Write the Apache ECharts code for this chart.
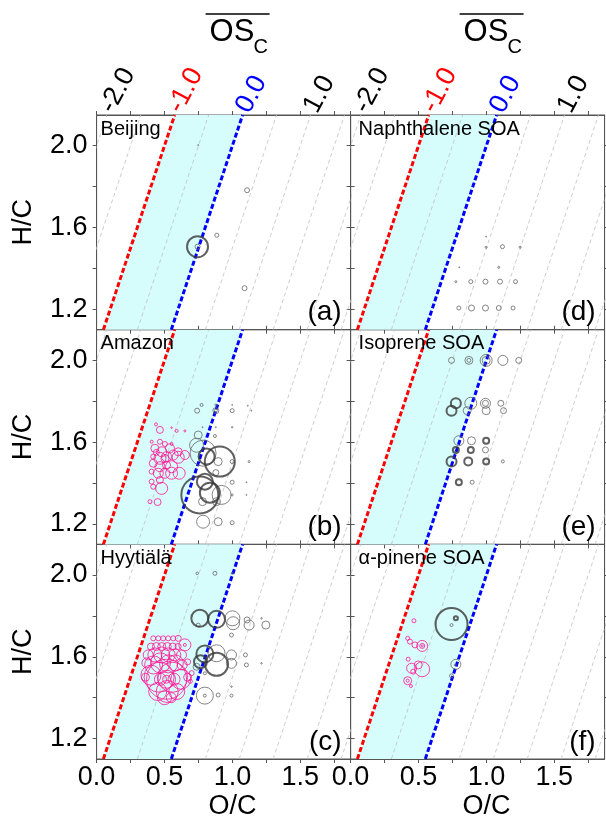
<!DOCTYPE html>
<html><head><meta charset="utf-8">
<script src="https://cdn.jsdelivr.net/npm/echarts@6/dist/echarts.min.js"></script>
<style>html,body{margin:0;padding:0;background:#fff}#c{width:606px;height:822px}</style>
</head><body><div id="c"></div>
<script>
// ---------------- data ----------------
const panelNames = ['Beijing', 'Amazon', 'Hyytiälä', 'Naphthalene SOA', 'Isoprene SOA', 'α-pinene SOA'];
const panelLetters = ['(a)', '(b)', '(c)', '(d)', '(e)', '(f)'];
const xTickLabels = [0, 0.5, 1.0, 1.5];
const xTickValues = [0, 0.25, 0.5, 0.75, 1.0, 1.25, 1.5, 1.75];
const yTickLabels = [1.2, 1.6, 2.0];
const yTickValues = [1.2, 1.4, 1.6, 1.8, 2.0];
const oscLabelValues = [-2, -1, 0, 1];
const oscGrayLines = [-2.5, -2, -1.5, -0.5, 0.5, 1, 1.5, 2, 2.5];
const oscBand = [-1, 0];
const X_MAX = 1.87, Y_MIN = 1.1, Y_MAX = 2.15;

// points: [O/C, H/C, size]
const beijingGrayThin = [[0.743,1.506,5],[0.885,1.562,4],[1.108,1.782,5],[1.089,1.303,5],[0.748,2.003,1]];
const beijingGrayThick = [[0.743,1.506,21]];

const amazonGrayThin = [[0.773,1.782,3],[0.74,1.754,5],[0.878,1.782,2],[0.878,1.754,6],[0.878,1.754,3],[0.998,1.782,1],
  [0.998,1.754,4],[1.113,1.778,1],[1.14,1.754,1],[0.78,1.673,1],[0.878,1.673,1],[0.998,1.673,1.5],[0.748,1.635,8],
  [0.871,1.63,3],[0.784,1.546,26],[0.736,1.585,14],[0.895,1.505,8],[0.878,1.451,6],[0.998,1.505,4],[0.998,1.404,4],
  [1.123,1.505,2],[1.103,1.404,1],[0.92,1.342,19],[0.883,1.309,8],[0.78,1.309,8],[0.784,1.211,13],[0.895,1.211,8],
  [0.998,1.206,4],[0.998,1.342,2],[1.103,1.342,1]];
const amazonGrayThick = [[0.907,1.505,30],[0.81,1.53,16],[0.797,1.407,16],[0.76,1.342,37],[0.834,1.353,20]];
const amazonPink = [[0.437,1.687,3],[0.466,1.66,7],[0.552,1.671,1.5],[0.589,1.655,3],[0.65,1.655,2],[0.405,1.602,3],
  [0.466,1.602,5],[0.503,1.591,5],[0.552,1.591,3],[0.429,1.57,8],[0.479,1.553,10],[0.54,1.57,9],[0.601,1.553,8],
  [0.65,1.537,9],[0.417,1.529,5],[0.466,1.521,12],[0.515,1.529,10],[0.564,1.537,10],[0.601,1.526,12],[0.417,1.497,8],
  [0.466,1.48,10],[0.515,1.488,8],[0.552,1.48,12],[0.405,1.456,5],[0.454,1.448,10],[0.503,1.448,10],[0.552,1.448,12],
  [0.608,1.448,12],[0.405,1.407,5],[0.466,1.415,7],[0.417,1.382,5],[0.479,1.374,12],[0.393,1.309,4],[0.449,1.307,7],
  [0.503,1.52,8],[0.44,1.55,6]];

const hyytialaGrayThin = [[0.741,2.008,2.5],[0.871,2.008,4],[0.998,2.008,2],[1.0,1.788,15],[1.005,1.764,13],[1.108,1.78,6],
  [1.123,1.755,10],[1.246,1.755,8],[1.214,1.788,1.5],[0.993,1.706,4],[0.748,1.755,4],[0.883,1.617,17],[0.993,1.609,10],
  [1.096,1.609,4],[0.993,1.568,10],[1.103,1.56,4],[1.214,1.568,1.5],[0.736,1.551,7],[0.797,1.519,3],[0.797,1.41,17],
  [0.797,1.41,3],[0.895,1.413,4],[0.993,1.41,3],[0.993,1.454,1.5]];
const hyytialaGrayThick = [[0.76,1.788,17],[0.883,1.783,17],[0.797,1.614,17],[0.765,1.576,13],[0.883,1.563,23]];
const hyytialaPink = [[0.417,1.69,5],[0.454,1.69,5],[0.49,1.69,5],[0.527,1.69,5],[0.564,1.69,5],[0.601,1.69,6],
  [0.65,1.658,12],[0.65,1.658,3],[0.40,1.65,7],[0.44,1.65,8],[0.48,1.65,8],[0.52,1.65,8],[0.56,1.65,7],[0.60,1.65,6],
  [0.38,1.609,10],[0.429,1.609,14],[0.479,1.609,16],[0.527,1.609,14],[0.576,1.609,12],[0.625,1.609,10],
  [0.37,1.57,10],[0.42,1.56,18],[0.47,1.57,20],[0.53,1.565,18],[0.58,1.57,16],[0.63,1.56,10],[0.67,1.575,6],
  [0.40,1.51,20],[0.46,1.50,30],[0.515,1.49,40],[0.56,1.50,30],[0.62,1.49,20],[0.515,1.49,18],[0.515,1.49,8],
  [0.47,1.49,12],[0.57,1.49,12],[0.36,1.50,8],[0.67,1.50,8],[0.70,1.52,5],[0.45,1.43,18],[0.52,1.43,22],
  [0.59,1.43,16],[0.50,1.40,14],[0.55,1.40,10],[0.69,1.48,4]];

const naphthaleneGrayThin = [[0.998,1.555,1],[0.998,1.503,2],[1.118,1.506,4],[1.248,1.503,2],[0.80,1.405,1],[1.091,1.405,2],
  [0.775,1.335,2],[0.885,1.335,4],[0.993,1.335,5],[1.10,1.335,5],[1.214,1.335,4],
  [0.797,1.206,4],[0.89,1.206,6],[0.993,1.206,6],[1.091,1.206,5],[1.196,1.206,4]];

const isopreneGrayThin = [[0.743,2.0,6],[0.871,2.0,8],[0.871,2.0,4],[0.998,2.0,12],[0.998,2.0,8],[1.121,2.0,10],[1.238,2.0,6],
  [0.885,1.79,12],[0.993,1.79,10],[0.993,1.79,6],[1.106,1.79,6],[0.858,1.754,8],[0.998,1.754,8],[1.126,1.754,6],
  [0.797,1.607,10],[0.89,1.607,8],[0.993,1.562,6],[1.121,1.506,3],[0.895,1.404,4]];
const isopreneGrayThick = [[0.775,1.79,10],[0.743,1.754,10],[0.998,1.607,6],[0.775,1.562,6],[0.885,1.562,6],
  [0.743,1.506,10],[0.866,1.506,8],[0.998,1.506,6],[0.797,1.404,6]];

const pineneGrayThin = [[0.775,1.563,10],[0.77,1.56,2],[0.743,1.507,4],[0.743,1.755,3]];
const pineneGrayThick = [[0.743,1.76,32],[0.775,1.788,4]];
const pinenePink = [[0.466,1.776,4],[0.42,1.69,4],[0.437,1.674,5],[0.474,1.658,6],[0.527,1.653,11],[0.527,1.653,5],
  [0.527,1.653,2],[0.424,1.588,4],[0.449,1.544,10],[0.498,1.56,8],[0.527,1.539,15],[0.461,1.527,5],[0.42,1.483,8],
  [0.42,1.483,3],[0.444,1.457,3]];

const panelData = [
  {pink: [], thin: beijingGrayThin, thick: beijingGrayThick},
  {pink: amazonPink, thin: amazonGrayThin, thick: amazonGrayThick},
  {pink: hyytialaPink, thin: hyytialaGrayThin, thick: hyytialaGrayThick},
  {pink: [], thin: naphthaleneGrayThin, thick: []},
  {pink: [], thin: isopreneGrayThin, thick: isopreneGrayThick},
  {pink: pinenePink, thin: pineneGrayThin, thick: pineneGrayThick}
];

// ---------------- layout / style ----------------
const FONT = "'Liberation Sans', Arial, sans-serif";
const colLeft = [96.6, 350.6], rowTop = [115, 329.7, 544.3], W = 254, H = 214.7;
const AX = '#555';
const grids = [], xAxes = [], yAxes = [], series = [], graphics = [];

function oscLine(v) { return [[(Y_MIN + v) / 2, Y_MIN], [(Y_MAX + v) / 2, Y_MAX]]; }

panelData.forEach((p, g) => {
  const col = Math.floor(g / 3), row = g % 3;
  const left = colLeft[col], top = rowTop[row];
  grids.push({left: left, top: top, width: W, height: H, show: true, borderColor: AX, borderWidth: 1, backgroundColor: 'transparent', containLabel: false});
  const xi = xAxes.length;
  xAxes.push({type: 'value', gridIndex: g, position: 'bottom', min: 0, max: X_MAX,
    axisLine: {show: true, onZero: false, lineStyle: {color: AX}},
    axisTick: {show: true, customValues: xTickValues, length: 4, lineStyle: {color: AX}},
    axisLabel: {show: row === 2, customValues: xTickLabels, formatter: v => v.toFixed(1), fontSize: 27, color: '#000', fontFamily: FONT, margin: 5},
    splitLine: {show: false},
    name: row === 2 ? 'O/C' : '', nameLocation: 'middle', nameGap: 34,
    nameTextStyle: {fontSize: 27, color: '#000', fontFamily: FONT, padding: [0, 0, 0, 18]}});
  xAxes.push({type: 'value', gridIndex: g, position: 'top', min: 0, max: X_MAX,
    axisLine: {show: true, onZero: false, lineStyle: {color: AX}},
    axisTick: {show: true, customValues: xTickValues, length: 4, lineStyle: {color: AX}},
    axisLabel: {show: false}, splitLine: {show: false}});
  if (row === 0) {
    xAxes.push({type: 'value', gridIndex: g, position: 'top', min: 2 * 0 - Y_MAX, max: 2 * X_MAX - Y_MAX,
      axisLine: {show: false}, axisTick: {show: false}, splitLine: {show: false},
      axisLabel: {show: true, customValues: oscLabelValues, rotate: -62, margin: 4,
        formatter: v => (v === -1 ? '{r|' : v === 0 ? '{b|' : '{k|') + v.toFixed(1) + '}',
        rich: {r: {color: '#ff0000', fontSize: 27, fontFamily: FONT}, b: {color: '#0000ff', fontSize: 27, fontFamily: FONT}, k: {color: '#000', fontSize: 27, fontFamily: FONT}}}});
  }
  const yi = yAxes.length;
  yAxes.push({type: 'value', gridIndex: g, position: 'left', min: Y_MIN, max: Y_MAX,
    axisLine: {show: true, onZero: false, lineStyle: {color: AX}},
    axisTick: {show: true, customValues: yTickValues, length: 4, lineStyle: {color: AX}},
    axisLabel: {show: col === 0, customValues: yTickLabels, formatter: v => v.toFixed(1), fontSize: 27, color: '#000', fontFamily: FONT, margin: 9},
    splitLine: {show: false},
    name: col === 0 ? 'H/C' : '', nameLocation: 'middle', nameGap: 60, nameRotate: 90,
    nameTextStyle: {fontSize: 27, color: '#000', fontFamily: FONT}});
  yAxes.push({type: 'value', gridIndex: g, position: 'right', min: Y_MIN, max: Y_MAX,
    axisLine: {show: true, onZero: false, lineStyle: {color: AX}},
    axisTick: {show: true, customValues: yTickValues, length: 4, lineStyle: {color: AX}},
    axisLabel: {show: false}, splitLine: {show: false}});

  // shaded band between OSc -1 and 0
  const bandPts = [[(Y_MIN + oscBand[0]) / 2, Y_MIN], [(Y_MIN + oscBand[1]) / 2, Y_MIN], [(Y_MAX + oscBand[1]) / 2, Y_MAX], [(Y_MAX + oscBand[0]) / 2, Y_MAX]];
  series.push({type: 'custom', xAxisIndex: xi, yAxisIndex: yi, silent: true, z: 1, data: [[0.5, 1.5]],
    renderItem: (params, api) => ({type: 'polygon', shape: {points: bandPts.map(pt => api.coord(pt))}, style: {fill: '#d6fcfc'}})});
  oscGrayLines.forEach(v => series.push({type: 'line', xAxisIndex: xi, yAxisIndex: yi, data: oscLine(v), symbol: 'none', silent: true, z: 2, clip: true,
    lineStyle: {color: '#c0c0c0', width: 0.8, type: [4, 3]}}));
  series.push({type: 'line', xAxisIndex: xi, yAxisIndex: yi, data: oscLine(-1), symbol: 'none', silent: true, z: 3, clip: true,
    lineStyle: {color: '#ff0000', width: 3, type: [5, 2.5]}});
  series.push({type: 'line', xAxisIndex: xi, yAxisIndex: yi, data: oscLine(0), symbol: 'none', silent: true, z: 3, clip: true,
    lineStyle: {color: '#0000ff', width: 3, type: [5, 2.5]}});
  const sc = (data, color, bw, z) => ({type: 'scatter', xAxisIndex: xi, yAxisIndex: yi, data: data, symbol: 'circle',
    symbolSize: v => v[2], silent: true, z: z, clip: true,
    itemStyle: {color: 'rgba(0,0,0,0)', borderColor: color, borderWidth: bw}});
  if (p.pink.length) series.push(sc(p.pink, '#ff1493', 1, 5));
  if (p.thin.length) series.push(sc(p.thin, '#666666', 1, 5));
  if (p.thick.length) series.push(sc(p.thick, '#383838', 2, 6));

  graphics.push({type: 'text', left: left + (col === 0 ? 4 : 8), top: top + 4, z: 10,
    style: {text: panelNames[g], fontSize: 20, fontFamily: FONT, fill: '#000'}});
  graphics.push({type: 'text', x: left + W - 9, y: top + H - 3, z: 10,
    style: {text: panelLetters[g], fontSize: 28, fontFamily: FONT, fill: '#000', align: 'right', verticalAlign: 'bottom'}});
});

// OS_C titles with overline
[colLeft[0], colLeft[1]].forEach(l => {
  graphics.push({type: 'text', x: l + 113, y: 17, z: 10, style: {text: 'OS', fontSize: 31, fontFamily: FONT, fill: '#000', verticalAlign: 'top'}});
  graphics.push({type: 'text', x: l + 157, y: 37, z: 10, style: {text: 'C', fontSize: 20, fontFamily: FONT, fill: '#000', verticalAlign: 'top'}});
  graphics.push({type: 'line', z: 10, shape: {x1: l + 109, y1: 14, x2: l + 173, y2: 14}, style: {stroke: '#000', lineWidth: 1.6}});
});

const chart = echarts.init(document.getElementById('c'), null, {renderer: 'canvas'});
chart.setOption({animation: false, backgroundColor: '#fff', grid: grids, xAxis: xAxes, yAxis: yAxes, series: series, graphic: graphics});
</script></body></html>
